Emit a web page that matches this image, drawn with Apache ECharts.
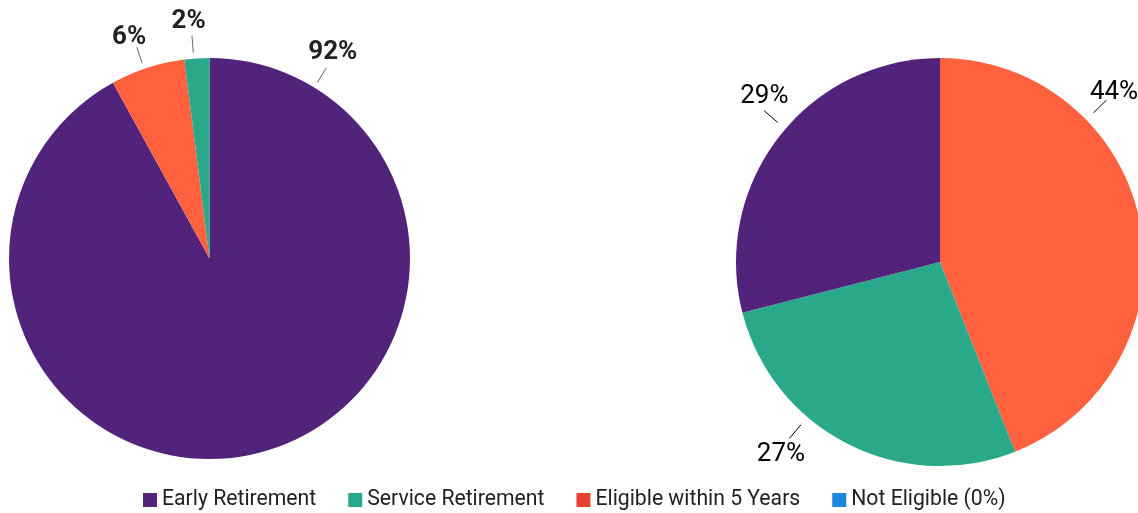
<!DOCTYPE html>
<html>
<head>
<meta charset="utf-8">
<style>
  html, body { margin: 0; padding: 0; background: #ffffff; }
  #chart { width: 1138px; height: 513px; }
</style>
<script src="https://cdn.jsdelivr.net/npm/echarts@6/dist/echarts.min.js"></script>
</head>
<body>
<div id="chart"></div>
<script>
// Categories shown in the legend
const categories = ['Early Retirement', 'Service Retirement', 'Eligible within 5 Years', 'Not Eligible (0%)'];

// Left pie, in drawing order (clockwise from 12 o'clock)
const leftNames = ['Early Retirement', 'Eligible within 5 Years', 'Service Retirement', 'Not Eligible (0%)'];
const leftValues = [92, 6, 2, 0];

// Right pie, in drawing order (clockwise from 12 o'clock)
const rightNames = ['Eligible within 5 Years', 'Service Retirement', 'Early Retirement', 'Not Eligible (0%)'];
const rightValues = [44, 27, 29, 0];

// Slice colours and legend swatch colours
const sliceColors = {
  'Early Retirement': '#51237A',
  'Service Retirement': '#29A88A',
  'Eligible within 5 Years': '#FF613E',
  'Not Eligible (0%)': '#1B88D9'
};
const legendColors = {
  'Early Retirement': '#51237A',
  'Service Retirement': '#29A88A',
  'Eligible within 5 Years': '#E8412F',
  'Not Eligible (0%)': '#1B88D9'
};

// Pie geometry and label placement (angles in degrees, clockwise from top;
// distances measured outward from the pie edge)
const pies = [
  { center: [209.5, 258.5], radius: 200.5,
    lineAngles: [31.5, -19, -4.5, 0], lineFrom: 6, lineTo: 23,
    textAngles: [30.7, -19.8, -5.0, 0], textDist: [41, 37, 39, 0],
    labelWeight: 'bold', labelColor: '#222222', lineColor: '#666666' },
  { center: [940, 262], radius: 204,
    lineAngles: [45.8, 220.5, 310.7, 0], lineFrom: 10, lineTo: 28,
    textAngles: [45.5, 219.9, 313.7, 0], textDist: [40, 44, 39, 0],
    labelWeight: 'normal', labelColor: '#000000', lineColor: '#000000' }
];

function polar(p, dist, deg) {
  const a = deg * Math.PI / 180;
  return [p.center[0] + Math.sin(a) * dist, p.center[1] - Math.cos(a) * dist];
}

function makeSeries(idx, names, values) {
  const p = pies[idx];
  return {
    type: 'pie',
    center: p.center,
    radius: p.radius,
    startAngle: 90,
    clockwise: true,
    avoidLabelOverlap: false,
    animation: false,
    silent: true,
    label: {
      show: true,
      formatter: '{c}%',
      fontFamily: 'Roboto',
      fontSize: 26,
      fontWeight: p.labelWeight,
      color: p.labelColor
    },
    labelLine: {
      show: true,
      length: 15,
      length2: 0,
      lineStyle: { color: p.lineColor, width: 1 }
    },
    labelLayout: function (params) {
      const i = params.dataIndex;
      const txt = polar(p, p.radius + p.textDist[i], p.textAngles[i]);
      const la = p.lineAngles[i];
      const end = polar(p, p.radius + p.lineTo, la);
      return {
        x: txt[0],
        y: txt[1] + 2,
        align: 'center',
        verticalAlign: 'middle',
        labelLinePoints: [polar(p, p.radius + p.lineFrom, la), end, end]
      };
    },
    data: names.map((n, i) => {
      const item = { name: n, value: values[i], itemStyle: { color: sliceColors[n] } };
      if (values[i] === 0) {
        item.label = { show: false };
        item.labelLine = { show: false };
      }
      return item;
    })
  };
}

const chart = echarts.init(document.getElementById('chart'), null, { renderer: 'canvas' });
chart.setOption({
  backgroundColor: '#ffffff',
  animation: false,
  legend: {
    left: 143,
    top: 489.5,
    padding: 0,
    icon: 'rect',
    itemWidth: 14,
    itemHeight: 14,
    itemGap: 32,
    selectedMode: false,
    textStyle: { fontFamily: 'Roboto', fontSize: 21.2, color: '#222222' },
    data: categories.map(n => ({ name: n, itemStyle: { color: legendColors[n] } }))
  },
  series: [
    makeSeries(0, leftNames, leftValues),
    makeSeries(1, rightNames, rightValues)
  ]
});
</script>
</body>
</html>
